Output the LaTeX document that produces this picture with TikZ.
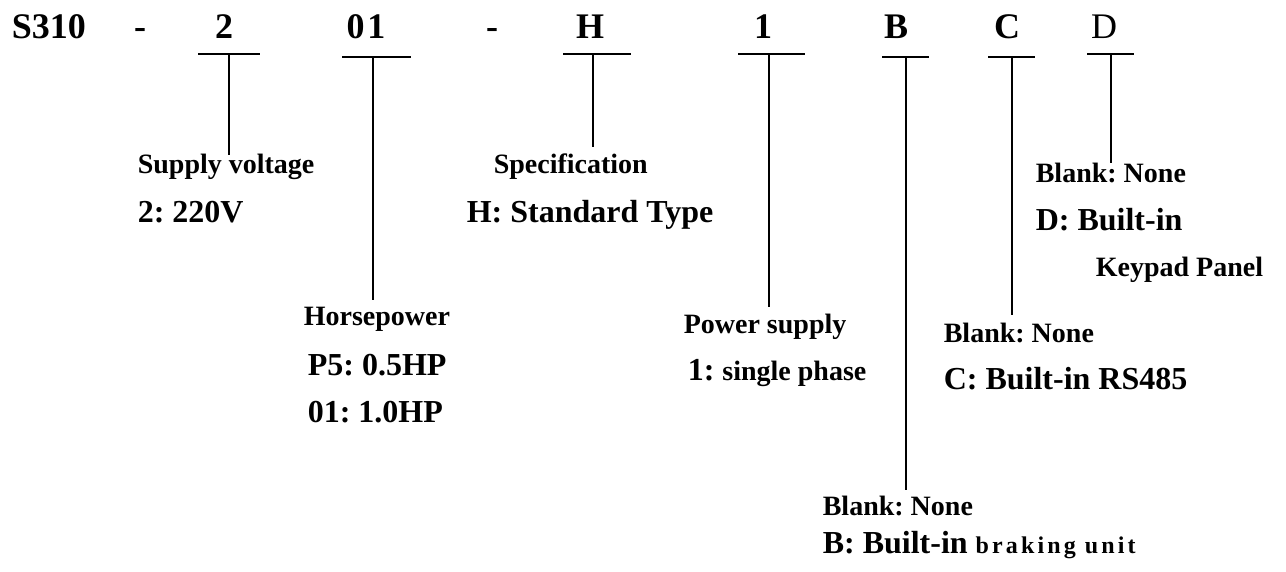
\documentclass[tikz,border=0pt]{standalone}
\usepackage{fontspec}
\setmainfont{Liberation Serif}
\frenchspacing
\begin{document}
\begin{tikzpicture}[x=1pt,y=-1pt, line width=1.6pt,
  lbl/.style={anchor=base west, inner sep=0pt, font=\bfseries\fontsize{28}{30}\selectfont},
  val/.style={anchor=base west, inner sep=0pt, font=\bfseries\fontsize{32}{34}\selectfont},
  code/.style={anchor=base, inner sep=0pt, font=\bfseries\fontsize{36}{40}\selectfont},
  tee/.style={line width=1.6pt}]
\useasboundingbox (0,0) rectangle (1286,571);
% top row
\node[code, anchor=base west] (s310) at (11,38) {S310};
\node[code] (d1) at (140,38) {-};
\node[code] (c2) at (224,38) {2};
\node[code] (c01) at (366,38) {\addfontfeature{LetterSpace=8}01};
\node[code] (d2) at (492,38) {-};
\node[code] (cH) at (590,38) {H};
\node[code] (c1) at (763,38) {1};
\node[code] (cB) at (896,38) {B};
\node[code] (cC) at (1007,38) {C};
\node[code, font=\fontsize{36}{40}\selectfont] (cD) at (1104,38) {D};
% tee bars: name / left / right / middle / bar y / end y
\foreach \n/\l/\r/\m/\y/\e in {t2/198/260/229/54/155, t01/342/411/373/57/300, tH/563/631/593/54/147, t1/738/805/769/54/307, tB/882/929/906/57/490, tC/988/1035/1012/57/315, tD/1087/1134/1111/54/163}{
  \coordinate (\n l) at (\l,\y);
  \coordinate (\n r) at (\r,\y);
  \coordinate (\n m) at (\m,\y);
  \coordinate (\n e) at (\m,\e);
  \draw[tee] (\n l) -- (\n r);
  \draw[tee] (\n m) -- (\n e);
}
% labels
\node[lbl] (sv) at (137,173) {Supply voltage};
\node[val] (sv1) at (137,222) {2: 220V};
\node[lbl] (sp) at (493,173) {Specification};
\node[val] (sp1) at (466,222) {H: Standard Type};
\node[lbl] (hp) at (303,325) {Horsepower};
\node[val] (hp1) at (307,375) {P5: 0.5HP};
\node[val] (hp2) at (307,422) {01: 1.0HP};
\node[lbl] (ps) at (683,333) {Power supply};
\node[val] (ps1) at (687,380) {1: {\fontsize{28}{30}\selectfont single phase}};
\node[lbl] (bn) at (822,515) {Blank: None};
\node[val] (bn1) at (822,553) {B: Built-in {\fontsize{24}{26}\selectfont\addfontfeature{LetterSpace=13}braking unit}};
\node[lbl] (cn) at (943,342) {Blank: None};
\node[val] (cn1) at (943,389) {C: Built-in RS485};
\node[lbl] (dn) at (1035,182) {Blank: None};
\node[val] (dn1) at (1035,230) {D: Built-in};
\node[lbl] (dn2) at (1095,276) {Keypad Panel};
\end{tikzpicture}
\end{document}
